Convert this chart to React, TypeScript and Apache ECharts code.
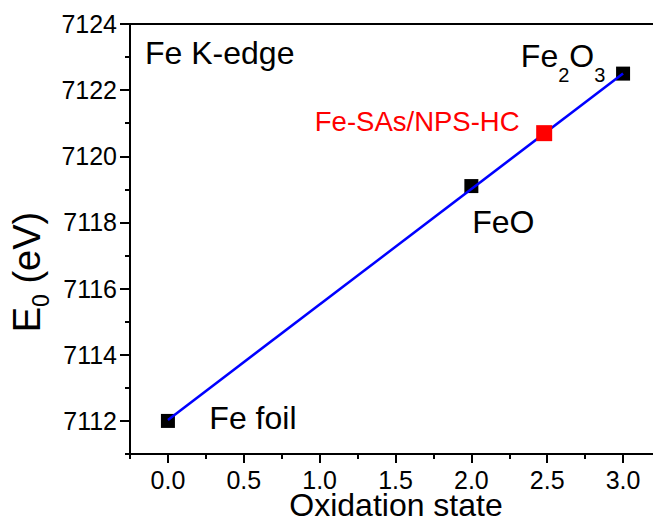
import React, { useEffect, useRef } from "react";
import * as echarts from "echarts";

// ---- data ----
const sampleNames = ["Fe foil", "FeO", "Fe2O3"];
const oxidationStates = [0, 2, 3];
const edgeEnergies = [7112.0, 7119.1, 7122.5];

const targetName = "Fe-SAs/NPS-HC";
const targetOxidation = [2.48];
const targetEnergy = [7120.7];

const fitX = [0, 3];
const fitY = [7112.03, 7122.5];

const xMajorTicks = [0, 0.5, 1.0, 1.5, 2.0, 2.5, 3.0];
const xMinorTicks = [-0.25, 0.25, 0.75, 1.25, 1.75, 2.25, 2.75, 3.25];
const yMajorTicks = [7112, 7114, 7116, 7118, 7120, 7122, 7124];
const yMinorTicks = [7111, 7113, 7115, 7117, 7119, 7121, 7123];

const xTitle = "Oxidation state";
const panelTitle = "Fe K-edge";

const FONT = "'Liberation Sans', Arial, sans-serif";

// label styling (positions relative to marker centre)
const labelStyles: Record<string, any> = {
  "Fe foil": { offset: [85, -3], formatter: "Fe foil", fontSize: 32 },
  FeO: { offset: [32, 36], formatter: "FeO", fontSize: 32 },
  Fe2O3: {
    offset: [-60, -18],
    formatter: "{m|Fe}{s|2}{m|O}{s|3}",
    rich: {
      m: { fontSize: 32, fontFamily: FONT, color: "#000" },
      s: { fontSize: 20, fontFamily: FONT, color: "#000", padding: [38, 0, 0, 0] },
    },
  },
};

export default function App() {
  const ref = useRef<HTMLDivElement>(null);
  useEffect(() => {
    if (!ref.current) return;
    const chart = echarts.init(ref.current, null, { renderer: "svg" });

    const blackData = sampleNames.map((n, i) => {
      const ls = labelStyles[n];
      return {
        name: n,
        value: [oxidationStates[i], edgeEnergies[i]],
        label: {
          show: true,
          position: "inside",
          align: "center",
          verticalAlign: "middle",
          color: "#000",
          fontFamily: FONT,
          ...ls,
        },
      };
    });

    const redData = targetOxidation.map((x, i) => ({
      name: targetName,
      value: [x, targetEnergy[i]],
      label: {
        show: true,
        position: "inside",
        align: "center",
        verticalAlign: "middle",
        offset: [-127, -12],
        formatter: targetName,
        color: "#ff0000",
        fontSize: 27.5,
        fontFamily: FONT,
      },
    }));

    const fitData = fitX.map((x, i) => [x, fitY[i]]);

    const axisLineStyle = { color: "#000", width: 2 };

    chart.setOption({
      animation: false,
      backgroundColor: "#ffffff",
      grid: {
        left: 130,
        top: 24,
        width: 531,
        height: 430,
        outerBoundsMode: "none",
        containLabel: false,
        show: true,
        borderColor: "#000",
        borderWidth: 2,
        backgroundColor: "transparent",
      },
      xAxis: [
        {
          type: "value",
          min: -0.25,
          max: 3.25,
          interval: 0.25,
          position: "bottom",
          axisLine: { show: true, onZero: false, lineStyle: axisLineStyle },
          axisTick: { show: true, inside: false, length: 9, customValues: xMajorTicks, lineStyle: { color: "#000", width: 2 } },
          axisLabel: {
            customValues: xMajorTicks,
            formatter: (v: number) => v.toFixed(1),
            fontSize: 25,
            fontFamily: FONT,
            color: "#000",
            margin: 13,
          },
          splitLine: { show: false },
        },
        {
          type: "value",
          min: -0.25,
          max: 3.25,
          interval: 0.25,
          position: "bottom",
          offset: 0,
          axisLine: { show: false, onZero: false },
          axisTick: { show: true, inside: false, length: 5, customValues: xMinorTicks, lineStyle: { color: "#000", width: 2 } },
          axisLabel: { show: false },
          splitLine: { show: false },
        },
      ],
      yAxis: [
        {
          type: "value",
          min: 7111,
          max: 7124,
          interval: 1,
          position: "left",
          axisLine: { show: true, onZero: false, lineStyle: axisLineStyle },
          axisTick: { show: true, inside: false, length: 10, customValues: yMajorTicks, lineStyle: { color: "#000", width: 2 } },
          axisLabel: {
            customValues: yMajorTicks,
            formatter: (v: number) => String(Math.round(v)),
            fontSize: 25,
            fontFamily: FONT,
            color: "#000",
            margin: 13,
          },
          splitLine: { show: false },
        },
        {
          type: "value",
          min: 7111,
          max: 7124,
          interval: 1,
          position: "left",
          offset: 0,
          axisLine: { show: false, onZero: false },
          axisTick: { show: true, inside: false, length: 5, customValues: yMinorTicks, lineStyle: { color: "#000", width: 2 } },
          axisLabel: { show: false },
          splitLine: { show: false },
        },
      ],
      graphic: [
        {
          type: "text",
          x: 145,
          y: 52.5,
          style: {
            text: panelTitle,
            fontSize: 32,
            fontFamily: FONT,
            fill: "#000",
            align: "left",
            verticalAlign: "middle",
          },
        },
        {
          type: "text",
          x: 396,
          y: 505,
          style: {
            text: xTitle,
            fontSize: 32,
            fontFamily: FONT,
            fill: "#000",
            align: "center",
            verticalAlign: "middle",
          },
        },
        {
          type: "text",
          x: 27,
          y: 272,
          rotation: Math.PI / 2,
          style: {
            text: "{m|E}{s|0}{m| (eV)}",
            align: "center",
            verticalAlign: "middle",
            rich: {
              m: { fontSize: 38, fontFamily: FONT, fill: "#000", color: "#000" },
              s: { fontSize: 23, fontFamily: FONT, fill: "#000", color: "#000", padding: [28, 0, 0, 0] },
            },
          },
        },
      ],
      series: [
        {
          type: "scatter",
          name: "references",
          xAxisIndex: 0,
          yAxisIndex: 0,
          symbol: "rect",
          symbolSize: 14,
          itemStyle: { color: "#000", opacity: 1 },
          data: blackData,
          z: 2,
        },
        {
          type: "line",
          name: "fit",
          xAxisIndex: 0,
          yAxisIndex: 0,
          data: fitData,
          showSymbol: false,
          symbol: "none",
          lineStyle: { color: "#0000ff", width: 2.5 },
          z: 3,
        },
        {
          type: "scatter",
          name: targetName,
          xAxisIndex: 0,
          yAxisIndex: 0,
          symbol: "rect",
          symbolSize: 16,
          itemStyle: { color: "#ff0000", opacity: 1 },
          data: redData,
          z: 4,
        },
      ],
    });
    return () => chart.dispose();
  }, []);

  return (
    <div
      ref={ref}
      style={{ position: "fixed", left: 0, top: 0, width: 653, height: 525, background: "#fff" }}
    />
  );
}
